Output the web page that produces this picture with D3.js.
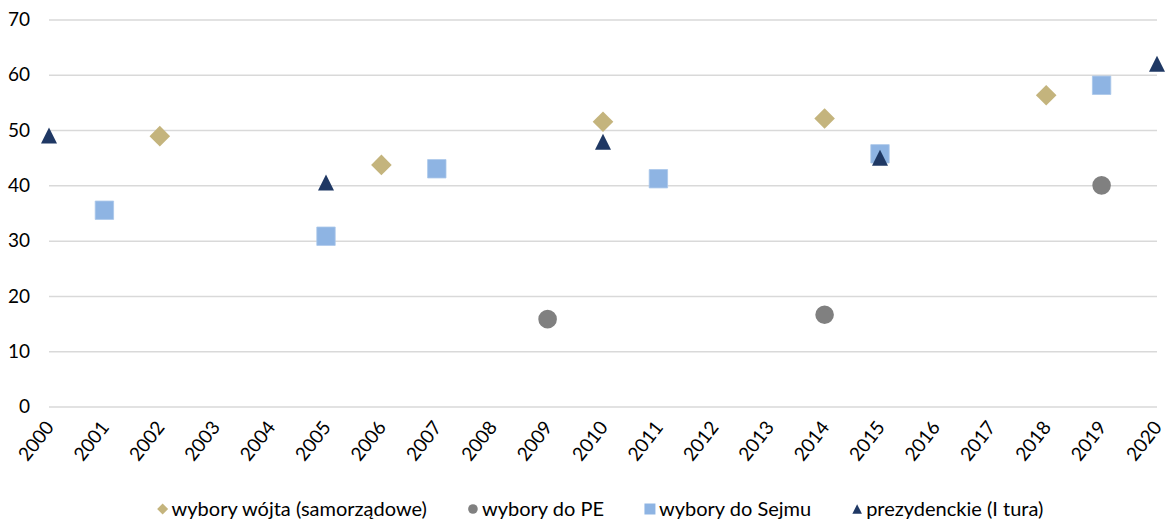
<!DOCTYPE html>
<html lang="pl">
<head>
    <meta charset="UTF-8">
    <title>Frekwencja wyborcza</title>
    <script src="https://cdnjs.cloudflare.com/ajax/libs/d3/7.8.5/d3.min.js"></script>
    <style>
        body { margin: 0; background: #fff; }
        svg text { font-family: Lato, "Liberation Sans", sans-serif; fill: #000; }
        .grid line { stroke: #d9d9d9; stroke-width: 1.5px; }
    </style>
</head>
<body>
<svg width="1166" height="520"></svg>
<script>
    // categories
    var years = d3.range(2000, 2021).map(String);
    var yTicks = [0, 10, 20, 30, 40, 50, 60, 70];

    // series values: [year, turnout]
    var wojt = [["2002", 48.9], ["2006", 43.7], ["2010", 51.5], ["2014", 52.1], ["2018", 56.3]];
    var pe = [["2009", 15.8], ["2014", 16.6], ["2019", 40.0]];
    var sejm = [["2001", 35.5], ["2005", 30.8], ["2007", 43.0], ["2011", 41.2], ["2015", 45.7], ["2019", 58.1]];
    var prez = [["2000", 49.0], ["2005", 40.5], ["2010", 47.9], ["2015", 45.0], ["2020", 62.0]];

    var series = [
        {name: "wybory wójta (samorządowe)", data: wojt, shape: "diamond", color: "#c4b47d"},
        {name: "wybory do PE", data: pe, shape: "circle", color: "#808080"},
        {name: "wybory do Sejmu", data: sejm, shape: "square", color: "#8eb4e3"},
        {name: "prezydenckie (I tura)", data: prez, shape: "triangle", color: "#1f3864"}
    ];

    var svg = d3.select("svg");
    var mLeft = 49, mRight = 1157, mTop = 19.5, mBottom = 406.5;

    var x = d3.scalePoint().domain(years).range([mLeft, mRight]);
    var y = d3.scaleLinear().domain([0, 70]).range([mBottom, mTop]);

    // marker path, s = half size
    function marker(shape, s) {
        if (shape === "diamond") return "M0," + (-s) + "L" + s + ",0L0," + s + "L" + (-s) + ",0Z";
        if (shape === "square") return "M" + (-s) + "," + (-s) + "h" + (2 * s) + "v" + (2 * s) + "h" + (-2 * s) + "Z";
        if (shape === "triangle") return "M0," + (-s) + "L" + s + "," + s + "L" + (-s) + "," + s + "Z";
        return "M" + s + ",0A" + s + "," + s + " 0 1,1 " + (-s) + ",0A" + s + "," + s + " 0 1,1 " + s + ",0Z";
    }
    var sizes = {diamond: 10.3, circle: 9.3, square: 9.2, triangle: 8};

    // gridlines + y labels
    var yAxis = svg.append("g")
            .attr("class", "grid")
            .attr("transform", "translate(" + mLeft + ",0)")
            .call(d3.axisLeft(y).tickValues(yTicks).tickSize(-(mRight - mLeft)).tickPadding(19));
    yAxis.select(".domain").remove();
    yAxis.selectAll("text").style("font-size", "19px");

    // x labels, rotated
    var xAxis = svg.append("g")
            .attr("transform", "translate(0," + mBottom + ")")
            .call(d3.axisBottom(x).tickSize(0));
    xAxis.select(".domain").remove();
    xAxis.selectAll("text")
            .style("font-size", "19px")
            .style("text-anchor", "end")
            .attr("dy", "0.35em")
            .attr("transform", "translate(0,17) rotate(-52)")
            .attr("y", 0)
            .attr("x", 0);

    // markers
    series.forEach(function (s) {
        svg.append("g").selectAll("path")
                .data(s.data)
                .enter()
                .append("path")
                .attr("transform", function (d) {
                    return "translate(" + x(d[0]) + "," + y(d[1]) + ")";
                })
                .attr("d", marker(s.shape, sizes[s.shape]))
                .attr("fill", s.color)
                .attr("stroke", s.shape === "square" ? "#a9c6ea" : "none")
                .attr("stroke-width", 0.8);
    });

    // legend
    var legend = svg.append("g").attr("transform", "translate(0,509)");
    var items = legend.selectAll("g").data(series).enter().append("g");
    items.append("path")
            .attr("d", function (d) { return marker(d.shape, d.shape === "diamond" ? 5.5 : d.shape === "square" ? 5.5 : 4.8); })
            .attr("fill", function (d) { return d.color; });
    items.append("text")
            .attr("x", 9)
            .attr("dy", "0.35em")
            .style("font-size", "20px")
            .text(function (d) { return d.name; });
    var pos = [], cx = 0;
    items.each(function () {
        var w = d3.select(this).select("text").node().getComputedTextLength();
        pos.push(cx);
        cx += 9 + w + 46;
    });
    var total = cx - 46, start = 603 - total / 2;
    items.attr("transform", function (d, i) { return "translate(" + (start + pos[i]) + ",0)"; });
</script>
</body>
</html>
